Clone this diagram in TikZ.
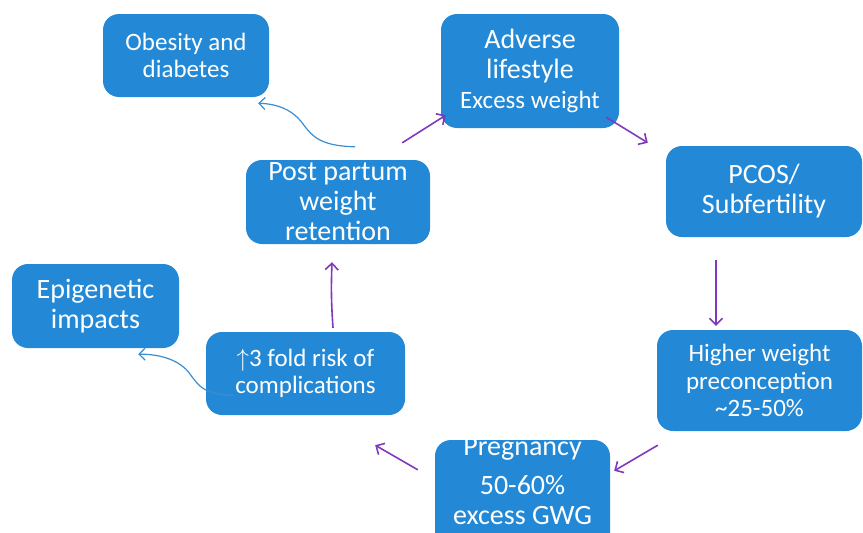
\documentclass[tikz,border=0pt]{standalone}
\usepackage{fontspec}
\setmainfont{Carlito}
\usetikzlibrary{arrows.meta}
\definecolor{boxblue}{HTML}{2389D6}
\definecolor{arrpurple}{HTML}{8038BC}
\definecolor{curveblue}{HTML}{3C8DD0}
\begin{document}
\begin{tikzpicture}[x=1pt,y=-1pt,
  box/.style={fill=boxblue, rounded corners=16pt, text=white, align=center, inner sep=0pt},
  big/.style={font=\fontsize{28}{30}\selectfont},
  mid/.style={font=\fontsize{25}{27.5}\selectfont},
  txt/.style={text=white, align=center, inner sep=0pt},
  parrow/.style={draw=arrpurple, line width=1.6pt, -{Straight Barb[length=6.5pt,width=13pt]}},
  carrow/.style={draw=curveblue, line width=1.2pt, -{Straight Barb[length=6pt,width=12pt]}}]
\useasboundingbox (0,0) rectangle (863,533);

\node[box, mid, minimum width=166pt, minimum height=83pt] (obes) at (186,55.5) {Obesity and\\diabetes};
\node[box, big, minimum width=178pt, minimum height=114pt] (adv) at (530,71) {Adverse\\lifestyle\\\fontsize{25}{29}\selectfont Excess weight};
\node[box, big, minimum width=196pt, minimum height=91pt] (pcos) at (764,191.5) {PCOS/\\Subfertility};
\node[box, mid, minimum width=205pt, minimum height=101pt] (higher) at (759.5,380.5) {Higher weight\\preconception\\\textasciitilde25-50\%};
\node[box, minimum width=175pt, minimum height=116pt] (preg) at (522.5,498) {};
\node[txt, big] (pregtext) at (522.5,481) {Pregnancy\\[9pt]50-60\%\\excess GWG};
\node[box, mid, minimum width=199pt, minimum height=83pt] (risk) at (305.5,373.5) {$\uparrow$3 fold risk of\\complications};
\node[box, big, minimum width=167pt, minimum height=84pt] (epi) at (95.5,306) {Epigenetic\\impacts};
\node[box, big, minimum width=184pt, minimum height=84pt] (pp) at (338,202) {Post partum\\weight\\retention};

\draw[parrow] ([shift={(-28,-17)}]pp.north east) -- ([shift={(5,-13)}]adv.south west);
\draw[parrow] ([shift={(-13,-11)}]adv.south east) -- ([shift={(-18,-3)}]pcos.north west);
\draw[parrow] ([shift={(-48,23)}]pcos.south) -- ([shift={(-43.5,-4)}]higher.north);
\draw[parrow] ([shift={(1,14)}]higher.south west) -- ([shift={(4,31)}]preg.north east);
\draw[parrow] ([shift={(-17,30)}]preg.north west) -- ([shift={(-30,30)}]risk.south east);
\draw[parrow] ([shift={(27.5,-4)}]risk.north) to[bend left=3] ([shift={(-6,18)}]pp.south);

\draw[carrow] ([shift={(17,-13)}]pp.north) .. controls (320,146) and (312,136) .. (303,124) .. controls (293,110) and (278,104) .. ([shift={(-11,6)}]obes.south east);
\draw[carrow] ([shift={(27,-20)}]risk.south west) .. controls (205,394) and (200,388) .. (190,374) .. controls (180,360) and (160,354) .. ([shift={(-41,6)}]epi.south east);
\end{tikzpicture}
\end{document}
